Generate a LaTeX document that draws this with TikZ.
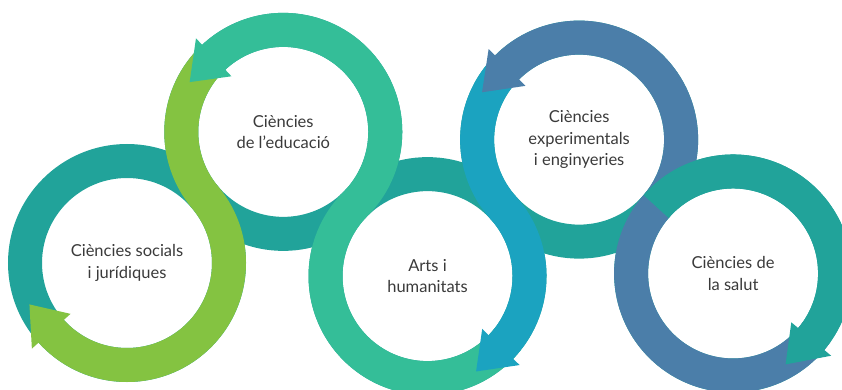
\documentclass[tikz,border=0pt]{standalone}
\usepackage{fontspec}
\setmainfont{Lato}

\definecolor{ringteal}{HTML}{21A39A}
\definecolor{ringgreen}{HTML}{84C341}
\definecolor{ringsea}{HTML}{34BE98}
\definecolor{ringblue}{HTML}{1BA3C0}
\definecolor{ringsteel}{HTML}{4B7EA9}
\definecolor{textgrey}{HTML}{3A3A3A}

\begin{document}
\begin{tikzpicture}[x=1pt,y=1pt]
  \tikzstyle{band}=[line width=34pt]
  \tikzstyle{ringtext}=[align=center,text=textgrey,font=\fontsize{16.5}{21.5}\selectfont]
  \useasboundingbox (0,0) rectangle (842,389);
  % ring centres, each ring touches the next one
  \coordinate (C_1) at (127,126);
  \coordinate (C_2) at ([shift={(40:204)}]C_1);
  \coordinate (C_3) at ([shift={(-45:204)}]C_2);
  \coordinate (C_4) at ([shift={(42:204)}]C_3);
  \coordinate (C_5) at ([shift={(-41:204)}]C_4);
  % teal rings underneath
  \draw[band,ringteal] (C_1) circle (102);
  \draw[band,ringteal] (C_2) circle (102);
  \draw[band,ringteal] (C_3) circle (102);
  \draw[band,ringteal] (C_4) circle (102);
  \draw[band,ringteal] (C_5) circle (102);
  % green: educacio -> socials
  \draw[band,ringgreen] ([shift={(136:102)}]C_2) arc[start angle=136,end angle=220,radius=102]
    arc[start angle=40,end angle=-139,radius=102];
  \fill[ringgreen] ([shift={(-138:76)}]C_1) -- ([shift={(-138:128)}]C_1) -- ([shift={(-157:106)}]C_1) -- cycle;
  % sea green: arts -> educacio
  \draw[band,ringsea] ([shift={(-38:102)}]C_3) arc[start angle=-38,end angle=-225,radius=102]
    arc[start angle=-45,end angle=134,radius=102];
  \fill[ringsea] ([shift={(133:76)}]C_2) -- ([shift={(133:128)}]C_2) -- ([shift={(152:106)}]C_2) -- cycle;
  % blue: experimentals -> arts
  \draw[band,ringblue] ([shift={(140:102)}]C_4) arc[start angle=140,end angle=222,radius=102]
    arc[start angle=42,end angle=-45,radius=102];
  \fill[ringblue] ([shift={(-44:76)}]C_3) -- ([shift={(-44:128)}]C_3) -- ([shift={(-63:107)}]C_3) -- cycle;
  % steel blue: salut -> experimentals
  \draw[band,ringsteel] ([shift={(-35:102)}]C_5) arc[start angle=-35,end angle=-221,radius=102]
    arc[start angle=-41,end angle=136,radius=102];
  \fill[ringsteel] ([shift={(135:76)}]C_4) -- ([shift={(135:128)}]C_4) -- ([shift={(154:108)}]C_4) -- cycle;
  % teal arrow on salut
  \draw[band,ringteal] ([shift={(139:102)}]C_5) arc[start angle=139,end angle=-41,radius=102];
  \fill[ringteal] ([shift={(-40:76)}]C_5) -- ([shift={(-40:128)}]C_5) -- ([shift={(-60:105)}]C_5) -- cycle;
  % texts
  \node[ringtext] (socials) at (C_1) {Ciències socials\\i jurídiques};
  \node[ringtext] (educacio) at (C_2) {Ciències\\de l’educació};
  \node[ringtext] (arts) at (C_3) {Arts i\\humanitats};
  \node[ringtext] (experimentals) at (C_4) {Ciències\\experimentals\\i enginyeries};
  \node[ringtext] (salut) at (C_5) {Ciències de\\la salut};
\end{tikzpicture}
\end{document}
